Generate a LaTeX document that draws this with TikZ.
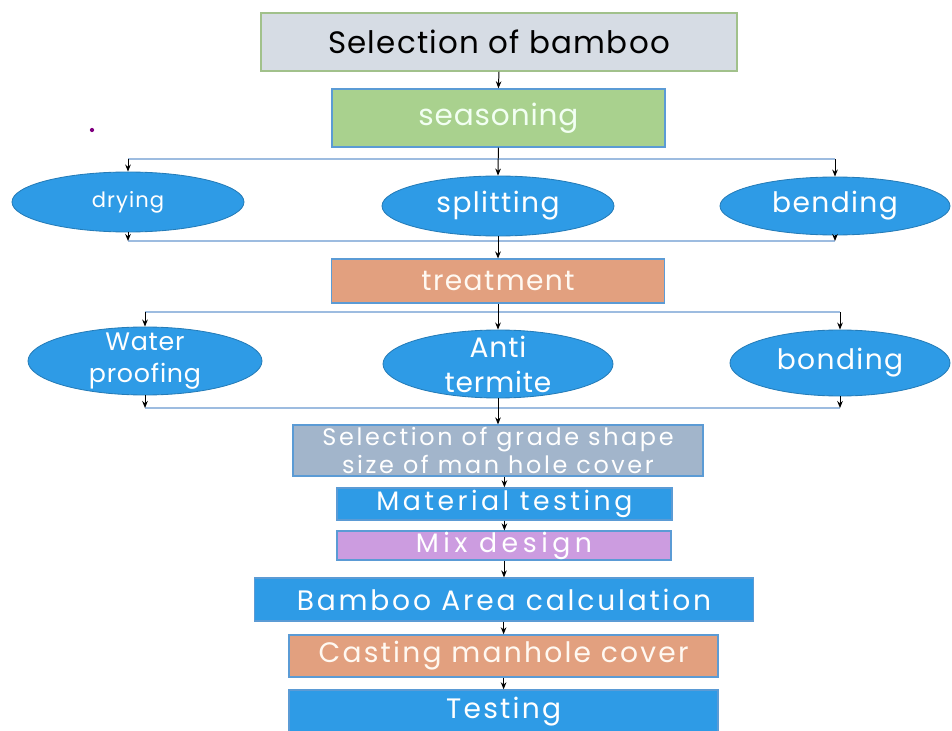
\documentclass[tikz,border=0pt]{standalone}
\usepackage{fontspec}
\setmainfont{Poppins}
\usetikzlibrary{arrows.meta, shapes.geometric}

\definecolor{boxgray}{HTML}{D6DCE4}
\definecolor{boxgreen}{HTML}{A9D18E}
\definecolor{boxblue}{HTML}{2E9BE6}
\definecolor{boxsalmon}{HTML}{E2A07F}
\definecolor{boxslate}{HTML}{A2B5CB}
\definecolor{boxlilac}{HTML}{CC9CE0}
\definecolor{edgeblue}{HTML}{5B9BD5}
\definecolor{linkblue}{HTML}{9DBCE0}

% size, baseline skip, letter spacing
\newcommand{\spaced}[3]{\fontsize{#1}{#2}\selectfont\addfontfeature{LetterSpace=#3}}

\begin{document}
\begin{tikzpicture}[
    box/.style={rectangle, draw=edgeblue, line width=1pt, text=white, inner sep=0pt, align=center},
    oval/.style={ellipse, fill=boxblue, draw=boxblue!80!black, line width=0.6pt, inner sep=0pt},
    arr/.style={-{Stealth[length=5pt, width=4pt]}, black, line width=0.7pt},
    link/.style={linkblue, line width=1.6pt}
]
    \clip (0,0) rectangle (23.8,-18.275);

    \node[box, fill=boxgray, draw=boxgreen!80!gray, text=black, minimum width=11.9cm, minimum height=1.45cm,
          font=\spaced{22}{26}{4}] (bamboo) at (12.475,-1.05) {Selection of bamboo};
    \node[box, fill=boxgreen, text=green!5, minimum width=8.325cm, minimum height=1.45cm,
          font=\spaced{21}{25}{3}] (season) at (12.46,-2.95) {seasoning};

    \node[oval, minimum width=5.8cm, minimum height=1.5cm,
          label={[text=white, font=\spaced{15}{18}{5}]center:drying}] (dry) at (3.2,-5.05) {};
    \node[oval, minimum width=5.8cm, minimum height=1.5cm,
          label={[text=white, font=\spaced{20}{24}{5}]center:splitting}] (split) at (12.45,-5.15) {};
    \node[oval, minimum width=5.75cm, minimum height=1.45cm,
          label={[text=white, font=\spaced{20}{24}{5}]center:bending}] (bend) at (20.875,-5.15) {};

    \node[box, fill=boxsalmon, text=orange!5, minimum width=8.325cm, minimum height=1.1cm,
          font=\spaced{20}{24}{5}] (treat) at (12.45,-7.03) {treatment};

    \node[oval, minimum width=5.85cm, minimum height=1.7cm,
          label={[text=white, align=center, font=\spaced{18}{23}{3}]center:Water\\proofing}] (water) at (3.625,-9.025) {};
    \node[oval, minimum width=5.75cm, minimum height=1.7cm,
          label={[text=white, align=center, font=\spaced{20}{25}{3}]center:Anti\\termite}] (anti) at (12.45,-9.1) {};
    \node[oval, minimum width=5.5cm, minimum height=1.65cm,
          label={[text=white, font=\spaced{20}{24}{5}]center:bonding}] (bond) at (21.0,-9.075) {};

    \node[box, fill=boxslate, minimum width=10.25cm, minimum height=1.275cm,
          font=\spaced{17}{20}{11}] (grade) at (12.45,-11.265) {Selection of grade shape\\size of man hole cover};
    \node[box, fill=boxblue, minimum width=8.375cm, minimum height=0.8cm,
          font=\spaced{19}{22}{13}] (mat) at (12.61,-12.6) {Material testing};
    \node[box, fill=boxlilac, minimum width=8.35cm, minimum height=0.725cm,
          font=\spaced{19}{22}{17}] (mix) at (12.6,-13.64) {Mix design};
    \node[box, fill=boxblue, minimum width=12.475cm, minimum height=1.075cm,
          font=\spaced{20}{24}{10}] (area) at (12.6,-14.99) {Bamboo Area calculation};
    \node[box, fill=boxsalmon, text=orange!5, minimum width=10.725cm, minimum height=1.05cm,
          font=\spaced{20}{24}{8}] (cast) at (12.59,-16.4) {Casting manhole cover};
    \node[box, fill=boxblue, minimum width=10.725cm, minimum height=1.1cm,
          font=\spaced{20}{24}{8}] (test) at (12.59,-17.8) {Testing};

    % branch lines
    \coordinate (top1) at (12.45,-3.975);
    \coordinate (bot1) at (12.45,-6.025);
    \coordinate (top2) at (12.45,-7.8);
    \coordinate (bot2) at (12.45,-10.2);

    \draw[link] (dry.north |- top1) -- (bend.north |- top1);
    \draw[link] (dry.south |- bot1) -- (bend.south |- bot1);
    \draw[link] (water.north |- top2) -- (bond.north |- top2);
    \draw[link] (water.south |- bot2) -- (bond.south |- bot2);

    \draw[arr] (bamboo.south) -- (season.north);
    \draw[arr] (season.south) -- (split.north);
    \draw[arr] (dry.north |- top1) -- (dry.north);
    \draw[arr] (bend.north |- top1) -- (bend.north);
    \draw[arr] (dry.south) -- (dry.south |- bot1);
    \draw[arr] (bend.south) -- (bend.south |- bot1);
    \draw[arr] (split.south) -- (treat.north);

    \draw[arr] (treat.south) -- (anti.north);
    \draw[arr] (water.north |- top2) -- (water.north);
    \draw[arr] (bond.north |- top2) -- (bond.north);
    \draw[arr] (water.south) -- (water.south |- bot2);
    \draw[arr] (bond.south) -- (bond.south |- bot2);
    \draw[arr] (anti.south) -- (grade.north);

    \draw[arr] (mat.north |- grade.south) -- (mat.north);
    \draw[arr] (mat.south) -- (mat.south |- mix.north);
    \draw[arr] (mix.south) -- (mix.south |- area.north);
    \draw[arr] (cast.north |- area.south) -- (cast.north);
    \draw[arr] (cast.south) -- (test.north);

    \fill[violet] (2.3,-3.25) circle (1.5pt);
\end{tikzpicture}
\end{document}
